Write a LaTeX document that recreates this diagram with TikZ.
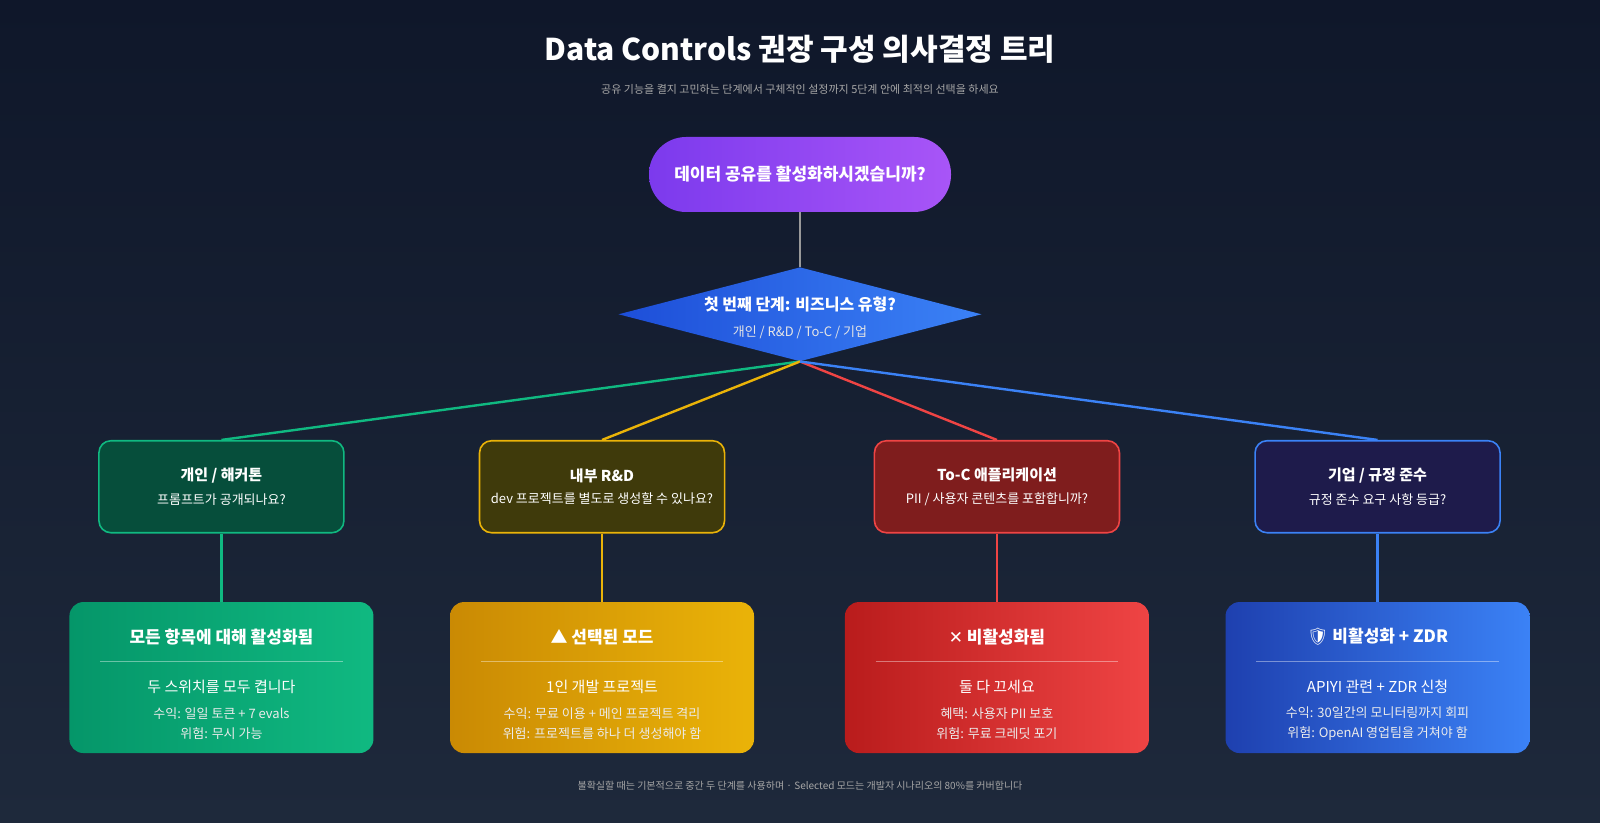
\documentclass[tikz,border=0pt]{standalone}
\usepackage{fontspec}
\setmainfont{Noto Sans CJK KR}
\newfontfamily\emj{Noto Emoji}
\newfontfamily\dvs{DejaVu Sans}
\usetikzlibrary{shapes.geometric}
\definecolor{bgA}{HTML}{0F172A}\definecolor{bgB}{HTML}{1E293B}
\definecolor{gA}{HTML}{10B981}\definecolor{gB}{HTML}{059669}\definecolor{gM}{HTML}{064E3B}
\definecolor{yA}{HTML}{EAB308}\definecolor{yB}{HTML}{CA8A04}\definecolor{yM}{HTML}{3F3A0B}
\definecolor{rA}{HTML}{EF4444}\definecolor{rB}{HTML}{B91C1C}\definecolor{rM}{HTML}{7F1D1D}
\definecolor{bA}{HTML}{3B82F6}\definecolor{bB}{HTML}{1E40AF}\definecolor{bM}{HTML}{1E1B4B}
\definecolor{pA}{HTML}{7C3AED}\definecolor{pB}{HTML}{A855F7}
\definecolor{dA}{HTML}{1D4ED8}\definecolor{dB}{HTML}{3B82F6}
\tikzset{
 midbox/.style={draw,line width=1.6pt,rounded corners=12pt,minimum width=245pt,minimum height=92pt,align=center,text=white},
 botbox/.style={rounded corners=14pt,minimum width=304pt,minimum height=151pt},
 btitle/.style={text=white,font=\fontsize{17}{20}\selectfont\bfseries},
 bline/.style={text=white,font=\fontsize{15}{18}\selectfont},
 bsmall/.style={text=white!92!black,font=\fontsize{13}{20}\selectfont,align=center},
 sep/.style={white,line width=0.8pt,opacity=0.4},
 conn/.style={line width=2.4pt},
}
\newcommand{\mtext}[2]{{\fontsize{15}{18}\selectfont\bfseries #1}\\[9pt]{\fontsize{13}{15}\selectfont #2}}
\begin{document}
\begin{tikzpicture}[x=1.0204pt,y=-1.0204pt]
\shade[top color=bgA,bottom color=bgB] (0,0) rectangle (1568,805.6);
\useasboundingbox (0,0) rectangle (1568,805.6);
\node[text=white,font=\fontsize{30}{34}\selectfont\bfseries] (title) at (784,48) {Data Controls 권장 구성 의사결정 트리};
\node[text=gray!70,font=\fontsize{11}{13}\selectfont] (sub) at (784,88) {공유 기능을 켤지 고민하는 단계에서 구체적인 설정까지 5단계 안에 최적의 선택을 하세요};
\node[rounded corners=37pt,minimum width=302pt,minimum height=75pt,left color=pA,right color=pB,text=white,font=\fontsize{17}{20}\selectfont\bfseries] (root) at (784,171) {데이터 공유를 활성화하시겠습니까?};
\node[diamond,aspect=3.87,inner sep=0pt,minimum width=363pt,minimum height=94pt,left color=dA,right color=dB] (dia) at (784,308) {};
\node[text=white,font=\fontsize{16}{19}\selectfont\bfseries] (d1) at (784,298) {첫 번째 단계: 비즈니스 유형?};
\node[text=white!90!black,font=\fontsize{13}{15}\selectfont] (d2) at (784,326) {개인 / R\&D / To-C / 기업};
\draw[conn,gray!80] (root.south) -- (dia.north);
% middle boxes
\node[midbox,draw=gA,fill=gM] (m1) at (217,477) {\mtext{개인 / 해커톤}{프롬프트가 공개되나요?}};
\node[midbox,draw=yA,fill=yM] (m2) at (590,477) {\mtext{내부 R\&D}{dev 프로젝트를 별도로 생성할 수 있나요?}};
\node[midbox,draw=rA,fill=rM] (m3) at (977,477) {\mtext{To-C 애플리케이션}{PII / 사용자 콘텐츠를 포함합니까?}};
\node[midbox,draw=bA,fill=bM] (m4) at (1350,477) {\mtext{기업 / 규정 준수}{규정 준수 요구 사항 등급?}};
\draw[conn,gA] (dia.south) -- (m1.north);
\draw[conn,yA] (dia.south) -- (m2.north);
\draw[conn,rA] (dia.south) -- (m3.north);
\draw[conn,bA] (dia.south) -- (m4.north);
% bottom boxes
\node[botbox,left color=gB,right color=gA] (b1) at (217,664) {};
\node[botbox,left color=yB,right color=yA] (b2) at (590,664) {};
\node[botbox,left color=rB,right color=rA] (b3) at (977,664) {};
\node[botbox,left color=bB,right color=bA] (b4) at (1350,664) {};
\draw[conn,gA] (m1.south) -- (b1.north);
\draw[conn,yA] (m2.south) -- (b2.north);
\draw[conn,rA] (m3.south) -- (b3.north);
\draw[conn,bA] (m4.south) -- (b4.north);
\foreach \b/\t/\l/\s in {
 b1/{모든 항목에 대해 활성화됨}/{두 스위치를 모두 켭니다}/{수익: 일일 토큰 + 7 evals\\위험: 무시 가능},
 b2/{▲ 선택된 모드}/{1인 개발 프로젝트}/{수익: 무료 이용 + 메인 프로젝트 격리\\위험: 프로젝트를 하나 더 생성해야 함},
 b3/{{\dvs ✕} 비활성화됨}/{둘 다 끄세요}/{혜택: 사용자 PII 보호\\위험: 무료 크레딧 포기},
 b4/{{\emj 🛡} 비활성화 + ZDR}/{APIYI 관련 + ZDR 신청}/{수익: 30일간의 모니터링까지 회피\\위험: OpenAI 영업팀을 거쳐야 함}} {
 \node[btitle] (\b t) at ([yshift=-35pt]\b.north) {\t};
 \draw[sep] ([xshift=31pt,yshift=-60pt]\b.north west) -- ([xshift=-31pt,yshift=-60pt]\b.north east);
 \node[bline] (\b l) at ([yshift=-85pt]\b.north) {\l};
 \node[bsmall] (\b s) at ([yshift=-122pt]\b.north) {\s};
}
\node[text=gray!70,font=\fontsize{10}{12}\selectfont] (foot) at (784,770) {불확실할 때는 기본적으로 중간 두 단계를 사용하며 · Selected 모드는 개발자 시나리오의 80\%를 커버합니다};
\end{tikzpicture}
\end{document}
